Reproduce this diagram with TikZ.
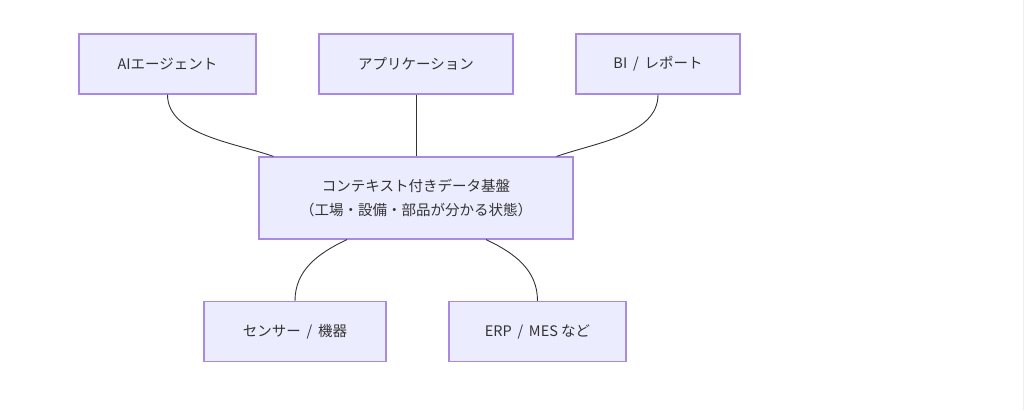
\documentclass[tikz,border=0pt]{standalone}
\usepackage{fontspec}
\setmainfont{Noto Sans CJK JP}
\usepackage{xcolor}
\definecolor{boxfill}{HTML}{ECECFF}
\definecolor{boxline}{HTML}{A88AE4}
\definecolor{linkline}{HTML}{333333}
\definecolor{labeltext}{HTML}{333333}
\newcommand{\boxh}{60}
\newcommand{\coreh}{82}
\newcommand{\lblsep}{\hspace{0.4em}/\hspace{0.4em}}

\begin{document}
\begin{tikzpicture}[x=1pt,y=-1pt,
    layerbox/.style={draw=boxline,fill=boxfill,line width=1.2pt,
      inner sep=0pt,minimum height=\boxh pt,text=labeltext,
      font=\fontsize{14.5}{24}\selectfont,align=center},
    link/.style={draw=linkline,line width=0.9pt}]
    \useasboundingbox (0,0) rectangle (1024,410);
    \draw[black!7,line width=0.8pt] (1023,0) -- (1023,410);

    % upper layer
    \node[layerbox,minimum width=177pt] (agent) at (167.5,64) {AIエージェント};
    \node[layerbox,minimum width=194pt] (app) at (416,64) {アプリケーション};
    \node[layerbox,minimum width=164pt] (bi) at (658,64) {BI\lblsep レポート};

    % middle
    \node[layerbox,minimum width=314pt,minimum height=\coreh pt] (core) at (416,198)
      {コンテキスト付きデータ基盤\\（工場・設備・部品が分かる状態）};

    % lower layer
    \node[layerbox,minimum width=182pt] (sensor) at (295,331.5) {センサー\lblsep 機器};
    \node[layerbox,minimum width=177pt] (erp) at (537.5,331.5) {ERP\lblsep MES など};

    \draw[link] (agent.south) .. controls +(0,40) and +(-40,-14) .. ([xshift=15pt]core.north west);
    \draw[link] (app.south) -- (core.north);
    \draw[link] (bi.south) .. controls +(0,40) and +(40,-14) .. ([xshift=-17pt]core.north east);
    \draw[link] ([xshift=-69pt]core.south) .. controls +(-30,14) and +(0,-30) .. (sensor.north);
    \draw[link] ([xshift=70pt]core.south) .. controls +(30,14) and +(0,-30) .. (erp.north);
\end{tikzpicture}
\end{document}
